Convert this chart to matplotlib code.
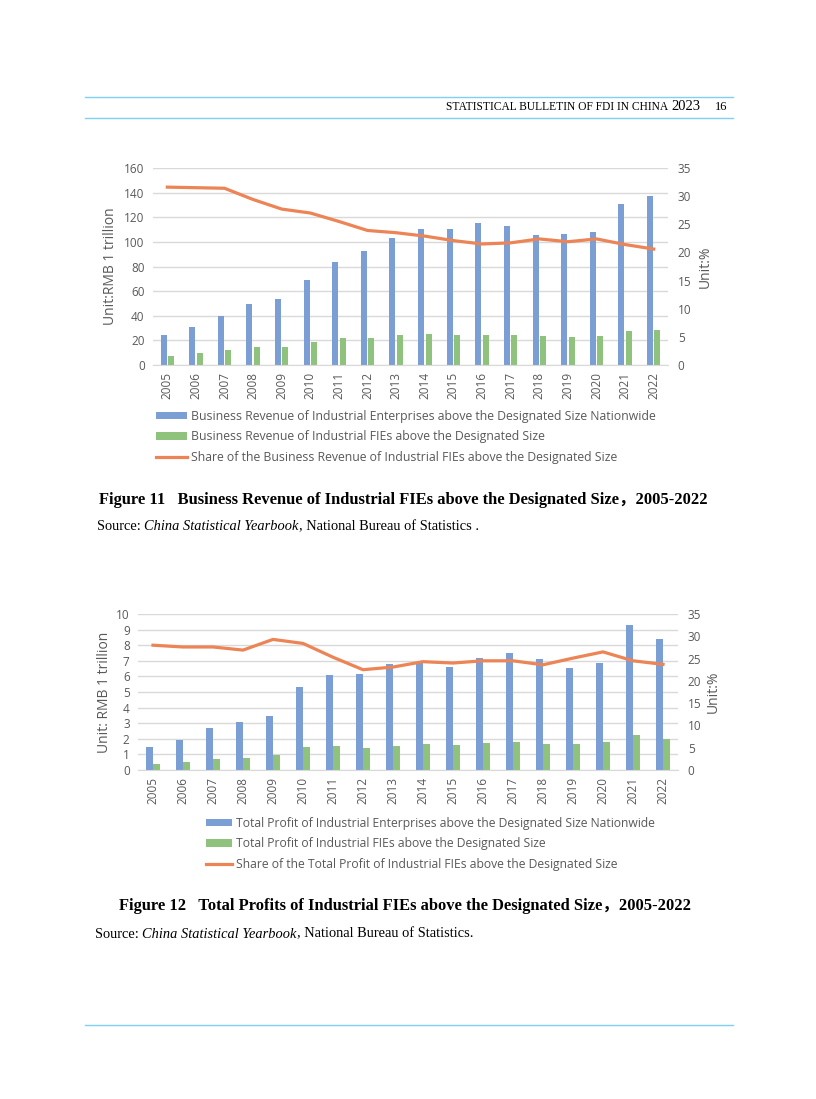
import matplotlib
matplotlib.use("Agg")
import matplotlib.pyplot as plt
from matplotlib.patches import Patch
from matplotlib.lines import Line2D

W, H = 816, 1099

years = [str(y) for y in range(2005, 2023)]

# Figure 11 data
rev_total = [24.6, 30.9, 39.5, 49.5, 53.9, 69.3, 83.7, 92.3, 103.4, 110.5,
             110.7, 115.6, 112.9, 105.3, 106.4, 108.0, 131.0, 137.5]
rev_fie = [7.6, 9.7, 12.5, 14.6, 14.9, 18.7, 21.7, 22.2, 24.1, 25.2,
           24.4, 24.6, 24.6, 23.6, 23.0, 23.8, 27.9, 28.4]
rev_share = [31.6, 31.5, 31.4, 29.4, 27.7, 27.0, 25.5, 23.9, 23.5, 22.9,
             22.1, 21.5, 21.7, 22.4, 21.9, 22.4, 21.4, 20.6]

# Figure 12 data
prof_total = [1.47, 1.94, 2.69, 3.05, 3.43, 5.29, 6.12, 6.18, 6.82, 6.85,
              6.61, 7.16, 7.48, 7.14, 6.55, 6.84, 9.28, 8.38]
prof_fie = [0.41, 0.51, 0.72, 0.79, 0.98, 1.49, 1.54, 1.39, 1.56, 1.64,
            1.58, 1.73, 1.81, 1.68, 1.64, 1.79, 2.26, 1.98]
prof_share = [28.0, 27.6, 27.6, 26.9, 29.3, 28.4, 25.3, 22.5, 23.1, 24.3,
              24.0, 24.5, 24.5, 23.6, 25.1, 26.5, 24.5, 23.7]

BLUE = "#7b9ed4"
GREEN = "#8fc27c"
ORANGE = "#ec8456"
GRID = "#d9d9d9"
TXT = "#595959"
SANS = "Open Sans"
SERIF = ["Liberation Serif", "Noto Sans CJK SC"]
RULE = "#7fd0f2"

fig = plt.figure(figsize=(W / 100, H / 100), dpi=100)
rend = fig.canvas.get_renderer()


def fx(x):
    return x / W


def fy(y):
    return 1 - y / H


def box(l, t, r, b):
    return [fx(l), fy(b), (r - l) / W, (b - t) / H]


def chart(rect, total, fie, share, ymax, ystep, off, bw, ylab, ylab_x, rlab_x):
    ax = fig.add_axes(rect)
    x = list(range(len(years)))
    ax.bar([i - off for i in x], total, width=bw, color=BLUE, zorder=2)
    ax.bar([i + off for i in x], fie, width=bw, color=GREEN, zorder=2)
    ax.set_xlim(-0.5, len(years) - 0.5)
    ax.set_ylim(0, ymax)
    ax.set_yticks([i * ystep for i in range(int(round(ymax / ystep)) + 1)])
    ax.yaxis.grid(True, color=GRID, lw=1)
    ax.set_axisbelow(True)
    ax.set_xticks(x)
    ax.set_xticklabels(years, rotation=90, fontsize=8, color=TXT, family=SANS)
    for s in ["top", "left", "right"]:
        ax.spines[s].set_visible(False)
    ax.spines["bottom"].set_color(GRID)
    ax.tick_params(axis="both", length=0, labelsize=8.5, labelcolor=TXT)
    ax.tick_params(axis="y", pad=6)
    ax.tick_params(axis="x", pad=5)
    for t in ax.get_yticklabels():
        t.set_family(SANS)

    ax2 = ax.twinx()
    ax2.plot(x, share, color=ORANGE, lw=2.3, zorder=3)
    ax2.set_ylim(0, 35)
    ax2.set_yticks(range(0, 36, 5))
    for s in ["top", "left", "right", "bottom"]:
        ax2.spines[s].set_visible(False)
    ax2.tick_params(axis="y", length=0, labelsize=8.5, labelcolor=TXT, pad=7)
    for t in ax2.get_yticklabels():
        t.set_family(SANS)

    cy = rect[1] + rect[3] / 2
    fig.text(fx(ylab_x), cy, ylab, rotation=90, ha="center", va="center",
             fontsize=10, color=TXT, family=SANS)
    fig.text(fx(rlab_x), cy, "Unit:%", rotation=90, ha="center", va="center",
             fontsize=10, color=TXT, family=SANS)
    return ax


def legend(labels, hx, y0, size, hlen):
    handles = [Patch(facecolor=BLUE), Patch(facecolor=GREEN),
               Line2D([0], [0], color=ORANGE, lw=2.3)]
    leg = fig.legend(handles, labels, loc="upper left",
                     bbox_to_anchor=(fx(hx), fy(y0)), frameon=False,
                     prop={"family": SANS, "size": size}, labelcolor=TXT,
                     handlelength=hlen, handleheight=0.55, handletextpad=0.4,
                     labelspacing=0.6, borderaxespad=0, borderpad=0)
    return leg


def source(x, y, tail):
    parts = [("Source: ", "normal"), ("China Statistical Yearbook", "italic"),
             (tail, "normal")]
    cur = x
    for s, st in parts:
        t = fig.text(fx(cur), fy(y), s, ha="left", va="center", fontsize=10.4,
                     family="Liberation Serif", style=st)
        cur += t.get_window_extent(renderer=rend).width


# header rules and running head
for yy in (97, 118, 1025):
    fig.add_artist(Line2D([fx(85), fx(733)], [fy(yy), fy(yy)], color=RULE, lw=1))
fig.text(fx(727), fy(107), "16", ha="right", va="center", fontsize=9,
         family="Liberation Serif")
t23 = fig.text(fx(701), fy(107), "2023", ha="right", va="center", fontsize=10.5,
               family="Liberation Serif")
w23 = t23.get_window_extent(renderer=rend).width
fig.text(fx(701 - w23 - 4), fy(107), "STATISTICAL BULLETIN OF FDI IN CHINA",
         ha="right", va="center", fontsize=8.3, family="Liberation Serif")

# Figure 11
chart(box(153, 168, 668, 365), rev_total, rev_fie, rev_share, 160, 20,
      0.13, 0.21, "Unit:RMB 1 trillion", 110, 705)
legend(["Business Revenue of Industrial Enterprises above the Designated Size Nationwide",
        "Business Revenue of Industrial FIEs above the Designated Size",
        "Share of the Business Revenue of Industrial FIEs above the Designated Size"],
       156, 410, 8.8, 2.5)
fig.text(fx(403), fy(500),
         "Figure 11   Business Revenue of Industrial FIEs above the Designated Size，2005-2022",
         ha="center", va="center", fontsize=11.9, weight="bold", family=SERIF)
source(97, 527, ", National Bureau of Statistics .")

# Figure 12
chart(box(138, 614, 678, 770), prof_total, prof_fie, prof_share, 10, 1,
      0.12, 0.23, "Unit: RMB 1 trillion", 104, 713)
legend(["Total Profit of Industrial Enterprises above the Designated Size Nationwide",
        "Total Profit of Industrial FIEs above the Designated Size",
        "Share of the Total Profit of Industrial FIEs above the Designated Size"],
       206, 817, 8.75, 2.1)
fig.text(fx(405), fy(906),
         "Figure 12   Total Profits of Industrial FIEs above the Designated Size，2005-2022",
         ha="center", va="center", fontsize=11.9, weight="bold", family=SERIF)
source(95, 934, ", National Bureau of Statistics.")

fig.savefig("out.png", dpi=100)
